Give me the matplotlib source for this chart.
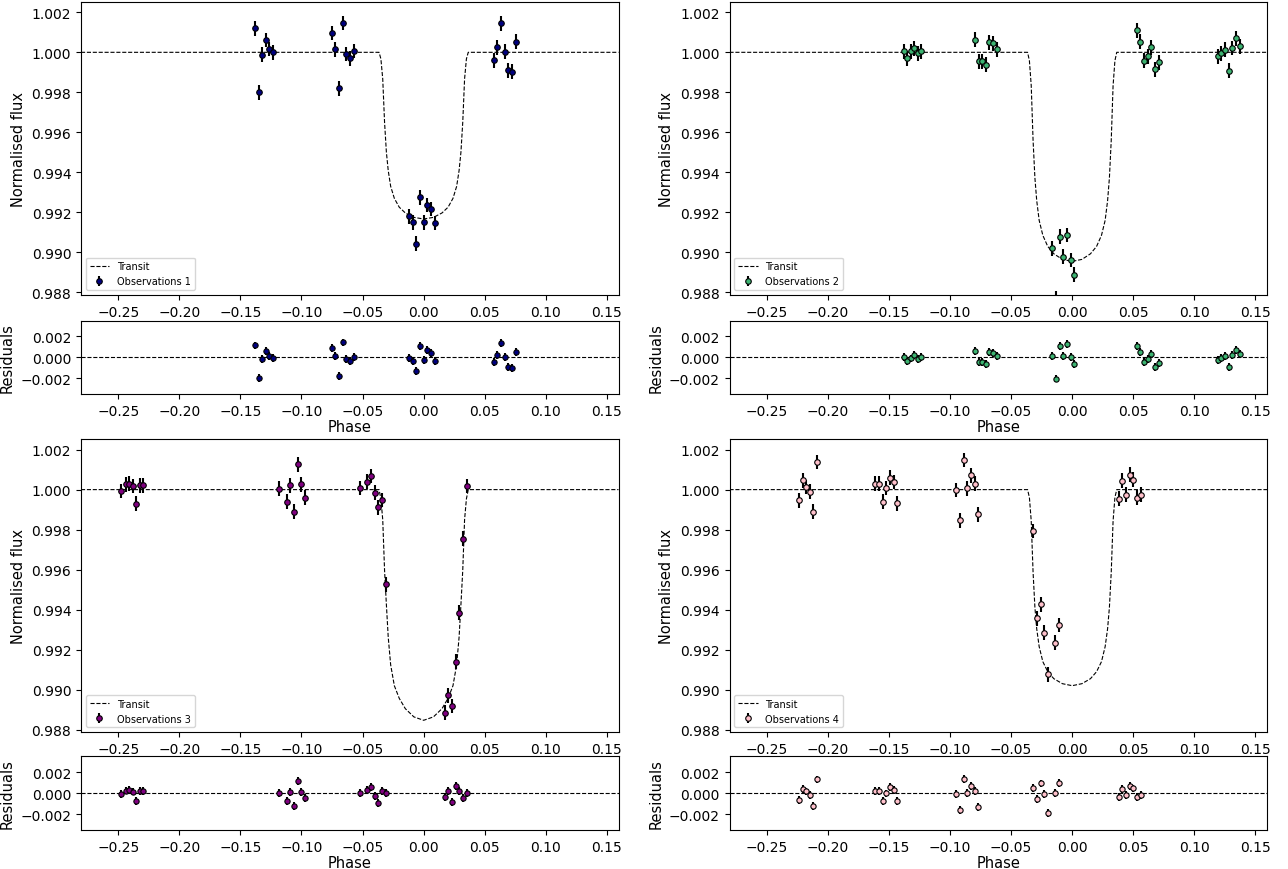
import numpy as np
import matplotlib
matplotlib.use('Agg')
import matplotlib.pyplot as plt

plt.rcParams['font.size'] = 10
plt.rcParams['axes.labelsize'] = 10.5

# ---- data ----
yerr = 0.00037

phase_1 = [-0.1377, -0.1350, -0.1320, -0.1293, -0.1263, -0.1236,
           -0.0753, -0.0722, -0.0692, -0.0663, -0.0633, -0.0602, -0.0573,
           -0.0119, -0.0090, -0.0060, -0.0029, 0.0000, 0.0030, 0.0061, 0.0090,
           0.0573, 0.0603, 0.0633, 0.0663, 0.0694, 0.0724, 0.0753]
flux_1 = [1.00120, 0.99800, 0.99988, 1.00062, 1.00017, 1.00000,
          1.00097, 1.00015, 0.99820, 1.00147, 0.99992, 0.99970, 1.00007,
          0.99180, 0.99150, 0.99043, 0.99275, 0.99150, 0.99237, 0.99217, 0.99147,
          0.99960, 1.00025, 1.00145, 1.00003, 0.99910, 0.99903, 1.00053]
resid_1 = [1.14, -2.00, -0.19, 0.63, 0.13, -0.06,
           0.89, 0.13, -1.81, 1.43, -0.13, -0.32, 0.03,
           -0.06, -0.35, -1.27, 1.05, -0.22, 0.67, 0.44, -0.38,
           -0.41, 0.25, 1.37, 0.00, -0.92, -1.02, 0.51]

phase_2 = [-0.1380, -0.1350, -0.1323, -0.1295, -0.1265, -0.1238,
           -0.0796, -0.0766, -0.0736, -0.0706, -0.0679, -0.0646, -0.0619,
           -0.0163, -0.0136, -0.0103, -0.0073, -0.0043, -0.0013, 0.0017,
           0.0529, 0.0559, 0.0589, 0.0619, 0.0649, 0.0679, 0.0710,
           0.1192, 0.1222, 0.1252, 0.1282, 0.1312, 0.1342, 0.1372]
flux_2 = [1.00005, 0.99971, 1.00005, 1.00020, 0.99995, 1.00005,
          1.00063, 0.99955, 0.99955, 0.99938, 1.00050, 1.00045, 1.00015,
          0.99020, 0.98770, 0.99078, 0.98978, 0.99087, 0.98962, 0.98888,
          1.00110, 1.00053, 0.99958, 0.99980, 1.00025, 0.99915, 0.99950,
          0.99980, 0.99995, 1.00013, 0.99908, 1.00022, 1.00070, 1.00030]
resid_2 = [0.06, -0.35, -0.10, 0.22, -0.13, 0.06,
           0.60, -0.44, -0.44, -0.67, 0.51, 0.44, 0.13,
           0.13, -2.03, 1.05, 0.16, 1.27, 0.06, -0.67,
           1.05, 0.51, -0.44, -0.19, 0.29, -0.89, -0.51,
           -0.22, -0.06, 0.13, -0.92, 0.19, 0.67, 0.29]

phase_3 = [-0.2477, -0.2438, -0.2408, -0.2381, -0.2351, -0.2324, -0.2297,
           -0.1181, -0.1121, -0.1091, -0.1061, -0.1031, -0.1001, -0.0971,
           -0.0518, -0.0461, -0.0431, -0.0401, -0.0371, -0.0341, -0.0311,
           0.0172, 0.0202, 0.0232, 0.0262, 0.0292, 0.0322, 0.0352]
flux_3 = [0.99993, 1.00027, 1.00030, 1.00018, 0.99930, 1.00022, 1.00022,
          1.00005, 0.99940, 1.00022, 0.99890, 1.00127, 1.00027, 0.99960,
          1.00008, 1.00040, 1.00068, 0.99985, 0.99912, 0.99948, 0.99527,
          0.98885, 0.98972, 0.98918, 0.99140, 0.99385, 0.99755, 1.00018]
resid_3 = [-0.10, 0.25, 0.30, 0.15, -0.75, 0.20, 0.20,
           -0.02, -0.71, 0.11, -1.19, 1.16, 0.14, -0.49,
           0.02, 0.27, 0.62, -0.24, -0.93, 0.24, 0.05,
           -0.40, 0.17, -0.81, 0.71, 0.17, -0.46, 0.05]

phase_4 = [-0.2237, -0.2207, -0.2179, -0.2149, -0.2122, -0.2092,
           -0.1612, -0.1582, -0.1552, -0.1522, -0.1492, -0.1462, -0.1432,
           -0.0949, -0.0919, -0.0889, -0.0859, -0.0829, -0.0799, -0.0769,
           -0.0319, -0.0289, -0.0259, -0.0229, -0.0196, -0.0139, -0.0109,
           0.0382, 0.0412, 0.0442, 0.0472, 0.0502, 0.0532, 0.0562]
flux_4 = [0.99947, 1.00047, 1.00013, 0.99990, 0.99890, 1.00138,
          1.00030, 1.00030, 0.99940, 1.00008, 1.00060, 1.00038, 0.99932,
          0.99998, 0.99847, 1.00148, 1.00007, 1.00072, 1.00030, 0.99877,
          0.99793, 0.99357, 0.99427, 0.99285, 0.99077, 0.99235, 0.99323,
          0.99955, 1.00045, 0.99975, 1.00075, 1.00050, 0.99960, 0.99975]
resid_4 = [-0.63, 0.38, 0.16, -0.16, -1.20, 1.30,
           0.19, 0.19, -0.73, -0.03, 0.57, 0.28, -0.76,
           -0.09, -1.61, 1.36, 0.00, 0.66, 0.22, -1.30,
           0.47, -0.54, 0.92, -0.09, -1.90, 0.00, 0.98,
           -0.40, 0.40, -0.20, 0.70, 0.45, -0.35, -0.20]

# transit model curves
model_phase = [-0.2805, -0.0365, -0.0350, -0.0335, -0.0320, -0.0305, -0.0290,
               -0.0270, -0.0240, -0.0200, -0.0150, -0.0080, 0.0000,
               0.0080, 0.0150, 0.0200, 0.0240, 0.0270, 0.0290, 0.0305,
               0.0320, 0.0335, 0.0350, 0.0365, 0.1595]
model_1 = [1.0, 1.0, 0.99967, 0.99867, 0.99650, 0.99500, 0.99409,
           0.99330, 0.99270, 0.99226, 0.99197, 0.99175, 0.99167,
           0.99175, 0.99197, 0.99226, 0.99270, 0.99330, 0.99409, 0.99500,
           0.99650, 0.99867, 0.99967, 1.0, 1.0]
model_2 = [1.0, 1.0, 0.99958, 0.99833, 0.99561, 0.99373, 0.99258,
           0.99160, 0.99085, 0.99030, 0.98993, 0.98965, 0.98955,
           0.98965, 0.98993, 0.99030, 0.99085, 0.99160, 0.99258, 0.99373,
           0.99561, 0.99833, 0.99958, 1.0, 1.0]
model_3 = [1.0, 1.0, 0.99954, 0.99850, 0.99596, 0.99424, 0.99262,
           0.99124, 0.99020, 0.98957, 0.98905, 0.98864, 0.98847,
           0.98864, 0.98905, 0.98957, 0.99020, 0.99124, 0.99262, 0.99424,
           0.99596, 0.99850, 0.99954, 1.0, 1.0]
model_4 = [1.0, 1.0, 0.99961, 0.99843, 0.99588, 0.99412, 0.99304,
           0.99215, 0.99140, 0.99090, 0.99055, 0.99030, 0.99020,
           0.99030, 0.99055, 0.99090, 0.99140, 0.99215, 0.99304, 0.99412,
           0.99588, 0.99843, 0.99961, 1.0, 1.0]

colors = ['#000080', '#3cb371', '#800080', '#ffc0cb']

panels = [
    (phase_1, flux_1, resid_1, model_1),
    (phase_2, flux_2, resid_2, model_2),
    (phase_3, flux_3, resid_3, model_3),
    (phase_4, flux_4, resid_4, model_4),
]

# axes rectangles in figure pixels: (main, residual) top/bottom edges
W, H = 1288, 870
col_left = [81 / W, 729.5 / W]
ax_w = 537.5 / W
rows = [((2.7, 296.0), (321.7, 395.0)), ((440.0, 733.3), (757.3, 831.0))]


def rect(left, top_px, bot_px):
    return [left, 1 - bot_px / H, ax_w, (bot_px - top_px) / H]


fig = plt.figure(figsize=(12.88, 8.7), dpi=100)

for idx, (ph, fl, res, mod) in enumerate(panels):
    r, c = divmod(idx, 2)
    (mt, mb), (rt, rb) = rows[r]
    ax1 = fig.add_axes(rect(col_left[c], mt, mb))
    ax2 = fig.add_axes(rect(col_left[c], rt, rb))

    ax1.plot(model_phase, mod, 'k--', lw=0.8, label='Transit')
    ax1.errorbar(ph, fl, yerr=yerr, fmt='o', color=colors[idx], markersize=4,
                 markeredgecolor='k', markeredgewidth=0.8, ecolor='k',
                 elinewidth=1.5, label=f'Observations {idx + 1}')
    ax1.set_xlim(-0.2805, 0.1595)
    ax1.set_ylim(0.98787, 1.00253)
    ax1.set_yticks(np.arange(0.988, 1.0021, 0.002))
    ax1.set_ylabel('Normalised flux')
    ax1.legend(loc='lower left', fontsize=7)

    # residuals
    ax2.axhline(0, color='k', ls='--', lw=0.8)
    ax2.errorbar(ph, np.array(res) * 1e-3, yerr=yerr, fmt='o', color=colors[idx],
                 markersize=3.8, markeredgecolor='k', markeredgewidth=0.8,
                 ecolor='k', elinewidth=1.5)
    ax2.set_xlim(-0.2805, 0.1595)
    ax2.set_ylim(-0.0035, 0.0035)
    ax2.set_yticks([-0.002, 0.0, 0.002])
    ax2.set_xlabel('Phase', labelpad=1)
    ax2.set_ylabel('Residuals')

fig.savefig('out.png', dpi=100)
